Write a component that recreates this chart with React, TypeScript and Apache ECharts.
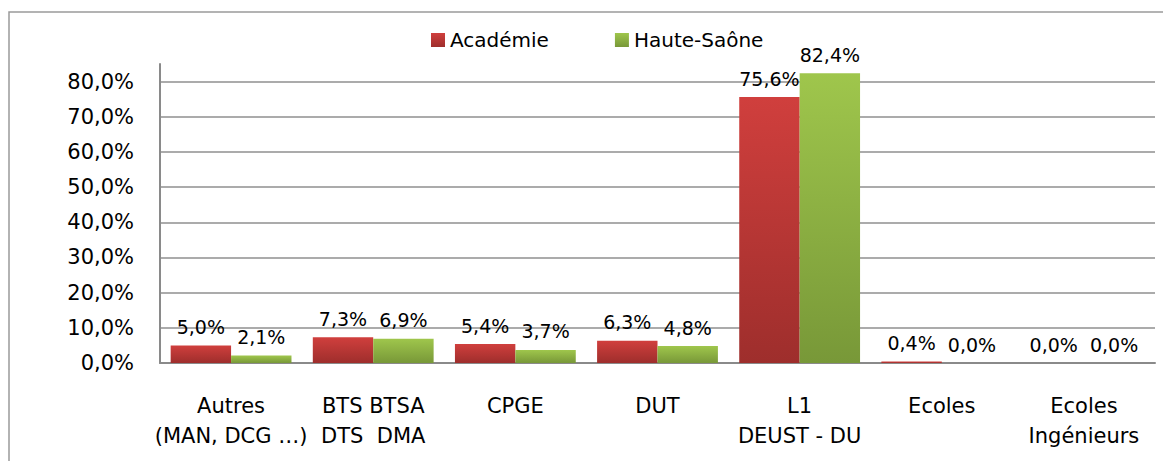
import React, { useEffect, useRef } from "react";
import * as echarts from "echarts";

const categories = [
  "Autres\n(MAN, DCG …)",
  "BTS BTSA\nDTS  DMA",
  "CPGE",
  "DUT",
  "L1\nDEUST - DU",
  "Ecoles",
  "Ecoles\nIngénieurs",
];
const academie = [5.0, 7.3, 5.4, 6.3, 75.6, 0.4, 0.0];
const hauteSaone = [2.1, 6.9, 3.7, 4.8, 82.4, 0.0, 0.0];
const seriesNames = ["Académie", "Haute-Saône"];

const FONT = "DejaVu Sans";
const fmt = (v: number) => v.toFixed(1).replace(".", ",") + "%";

export default function App() {
  const ref = useRef<HTMLDivElement>(null);
  useEffect(() => {
    if (!ref.current) return;
    const chart = echarts.init(ref.current, undefined, { renderer: "svg" });
    const grad = (top: string, bottom: string) =>
      new echarts.graphic.LinearGradient(0, 0, 0, 1, [
        { offset: 0, color: top },
        { offset: 1, color: bottom },
      ]);
    const label = {
      show: true,
      position: "top" as const,
      distance: 9,
      fontFamily: FONT,
      fontSize: 19,
      color: "#000",
      formatter: (p: any) => fmt(p.value),
    };
    chart.setOption({
      animation: false,
      textStyle: { fontFamily: FONT },
      graphic: [
        {
          type: "rect",
          shape: { x: 9, y: 12, width: 1200, height: 500 },
          style: { fill: "none", stroke: "#9a9a9a", lineWidth: 1.5 },
          silent: true,
        },
      ],
      legend: {
        left: 426,
        top: 25,
        itemWidth: 14,
        itemHeight: 14,
        itemGap: 66,
        icon: "rect",
        textStyle: { fontFamily: FONT, fontSize: 20, color: "#000" },
        data: seriesNames,
      },
      grid: { left: 160, right: 8, top: 64, bottom: 98, containLabel: false },
      xAxis: {
        type: "category",
        data: categories,
        axisLine: { show: true, lineStyle: { color: "#8a8a8a", width: 2 } },
        axisTick: { show: false },
        axisLabel: {
          interval: 0,
          margin: 28,
          fontFamily: FONT,
          fontSize: 21,
          lineHeight: 30,
          color: "#000",
        },
      },
      yAxis: {
        type: "value",
        min: 0,
        max: 85,
        interval: 10,
        axisLine: { show: true, lineStyle: { color: "#8a8a8a", width: 2 } },
        axisTick: { show: false },
        splitLine: {
          show: true,
          lineStyle: {
            width: 1.5,
            color: [
              "#8f8f8f",
              "#8f8f8f",
              "#8f8f8f",
              "#8f8f8f",
              "#8f8f8f",
              "#8f8f8f",
              "#8f8f8f",
              "#8f8f8f",
              "#8f8f8f",
              "rgba(0,0,0,0)",
            ],
          },
        },
        axisLabel: {
          margin: 26,
          fontFamily: FONT,
          fontSize: 21,
          color: "#000",
          formatter: (v: number) => (v > 80 ? "" : fmt(v)),
        },
      },
      series: [
        {
          name: seriesNames[0],
          type: "bar",
          data: academie,
          barGap: "0%",
          barCategoryGap: "15%",
          itemStyle: { color: grad("#d03f3d", "#9e2e2c") },
          label,
        },
        {
          name: seriesNames[1],
          type: "bar",
          data: hauteSaone,
          barGap: "0%",
          barCategoryGap: "15%",
          itemStyle: { color: grad("#9fc64c", "#789838") },
          label,
        },
      ],
    });
    return () => chart.dispose();
  }, []);
  return (
    <div
      ref={ref}
      style={{ position: "fixed", left: 0, top: 0, width: 1163, height: 461, background: "#fff" }}
    />
  );
}
